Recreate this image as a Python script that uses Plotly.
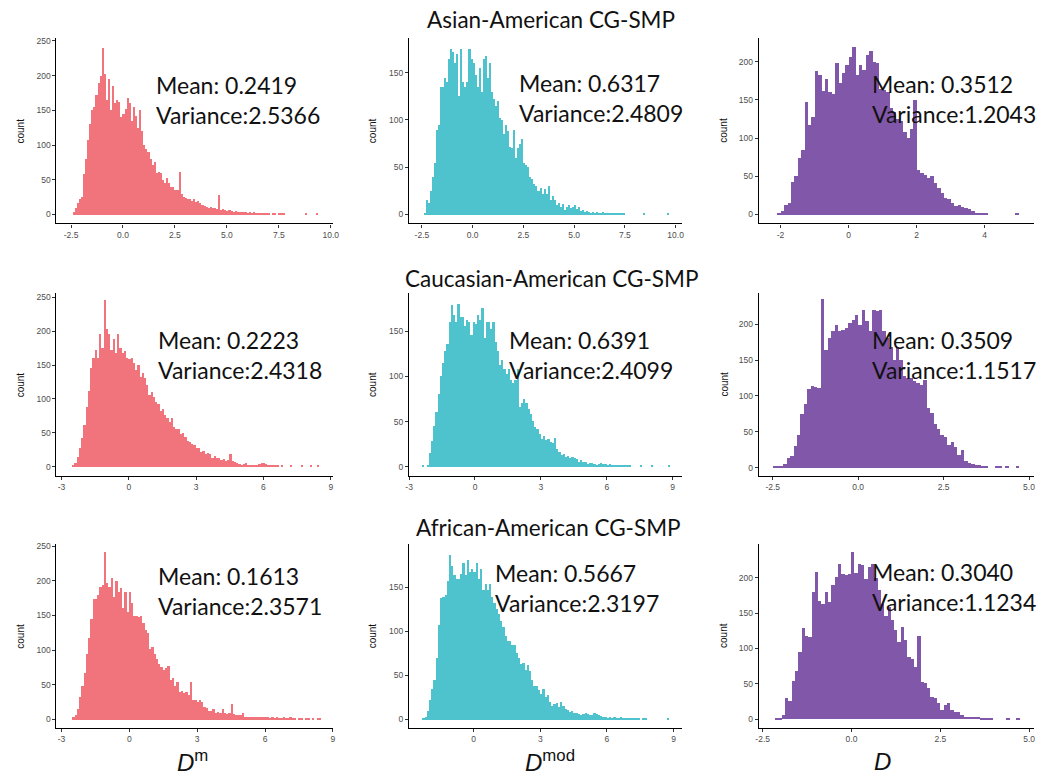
import plotly.graph_objects as go

W, H = 1053, 778

# ------------------------------------------------------------------ data
# histogram counts per bin; bins of equal width
asian_dm = [4, 10, 17, 22, 25, 58, 80, 108, 130, 150,
            155, 172, 190, 200, 240, 202, 165, 195, 150, 185,
            160, 165, 162, 140, 145, 152, 168, 160, 135, 155,
            142, 125, 150, 120, 100, 95, 90, 80, 72, 75,
            60, 62, 60, 50, 45, 52, 45, 40, 40, 36,
            35, 62, 30, 26, 24, 22, 23, 20, 22, 18,
            19, 16, 14, 12, 11, 10, 11, 9, 10, 8,
            28, 7, 8, 6, 5, 7, 5, 4, 5, 3,
            4, 3, 4, 3, 2, 3, 2, 3, 2, 1,
            2, 1, 1, 2, 1, 0, 1, 1, 0, 1,
            1, 1, 0, 0, 0, 0, 0, 0, 0, 0,
            0, 0, 1, 0, 0, 0, 0, 1]
asian_dmod = [2, 15, 12, 25, 40, 55, 90, 95, 135, 135,
              145, 140, 165, 175, 172, 160, 170, 125, 175, 140,
              135, 140, 175, 165, 160, 148, 135, 155, 130, 165,
              168, 145, 160, 130, 122, 115, 120, 102, 100, 85,
              95, 88, 72, 70, 90, 60, 70, 75, 80, 55,
              52, 50, 40, 38, 32, 30, 25, 28, 22, 27,
              22, 30, 15, 20, 15, 10, 12, 8, 11, 5,
              8, 10, 7, 8, 10, 6, 8, 4, 5, 3,
              4, 3, 2, 3, 2, 3, 2, 2, 3, 2,
              2, 1, 2, 2, 1, 2, 1, 2, 1, 0,
              0, 0, 0, 0, 0, 0, 0, 0, 1, 0,
              0, 0, 0, 0, 0, 0, 0, 0, 0, 0, 1]
asian_d = [2, 5, 13, 15, 43, 50, 74, 85, 148, 117,
           128, 188, 183, 162, 178, 161, 158, 198, 172, 185,
           196, 206, 220, 183, 196, 190, 209, 214, 200, 198,
           165, 163, 160, 140, 135, 125, 122, 108, 100, 112,
           150, 58, 54, 52, 48, 50, 41, 35, 28, 22,
           20, 15, 11, 12, 10, 8, 7, 4, 2, 2,
           2, 2, 0, 0, 0, 0, 0, 0, 0, 0, 1]

cauc_dm = [2, 6, 14, 28, 42, 62, 88, 112, 145, 160,
           172, 160, 195, 175, 245, 203, 195, 172, 188, 168,
           195, 175, 168, 170, 160, 158, 160, 152, 142, 150,
           132, 138, 130, 120, 105, 110, 103, 95, 92, 82,
           85, 76, 72, 66, 72, 58, 56, 55, 48, 50,
           43, 38, 36, 34, 32, 27, 28, 22, 23, 18,
           20, 18, 12, 15, 12, 12, 10, 11, 8, 9,
           18, 8, 7, 5, 4, 3, 4, 5, 3, 2,
           3, 2, 3, 4, 5, 6, 4, 3, 2, 1,
           1, 1, 0, 1, 0, 0, 0, 1, 0, 0,
           0, 0, 1, 0, 0, 0, 1, 0, 0, 1]
cauc_dmod = [1, 0, 1, 15, 28, 45, 60, 80, 100, 115,
             128, 135, 160, 178, 168, 160, 180, 165, 165, 155,
             162, 160, 145, 160, 158, 168, 162, 175, 142, 160,
             160, 152, 160, 138, 128, 112, 118, 108, 102, 108,
             96, 92, 96, 108, 66, 70, 75, 70, 64, 58,
             50, 44, 41, 36, 31, 34, 29, 31, 27, 26,
             32, 19, 16, 13, 14, 11, 12, 9, 11, 9,
             8, 5, 7, 5, 5, 3, 4, 4, 3, 2,
             3, 4, 3, 3, 2, 3, 2, 2, 1, 2,
             1, 1, 2, 1, 1, 0, 0, 0, 0, 1,
             0, 0, 0, 0, 1, 0, 0, 0, 0, 0,
             0, 0, 1]
cauc_d = [1, 1, 2, 5, 14, 16, 30, 46, 74, 88,
          110, 113, 112, 111, 234, 164, 180, 190, 199, 190,
          192, 194, 201, 206, 213, 199, 220, 204, 190, 220,
          218, 220, 190, 180, 168, 150, 168, 150, 128, 125,
          125, 120, 118, 115, 122, 83, 76, 60, 53, 46,
          42, 32, 35, 28, 18, 25, 9, 7, 5, 4,
          3, 2, 1, 0, 0, 1, 1, 0, 1, 0,
          0, 1]

afr_dm = [3, 6, 15, 32, 48, 68, 95, 118, 145, 175,
          175, 180, 192, 195, 242, 198, 192, 205, 178, 200,
          185, 190, 162, 185, 155, 185, 168, 150, 150, 148,
          150, 140, 130, 125, 102, 105, 95, 88, 80, 76,
          72, 75, 78, 57, 60, 48, 55, 40, 42, 38,
          40, 36, 55, 29, 28, 26, 29, 25, 18, 17,
          12, 12, 15, 10, 11, 10, 15, 9, 8, 10,
          22, 8, 7, 6, 7, 10, 4, 3, 4, 3,
          4, 3, 3, 4, 3, 3, 4, 2, 3, 2,
          3, 2, 2, 3, 2, 2, 3, 2, 1, 0,
          1, 1, 0, 1, 1, 0, 1, 0, 1, 1]
afr_dmod = [2, 3, 10, 22, 35, 45, 70, 108, 138, 140,
            142, 158, 188, 175, 165, 160, 160, 166, 178, 165,
            182, 168, 172, 168, 178, 160, 172, 148, 155, 148,
            155, 140, 133, 126, 120, 112, 106, 95, 89, 90,
            85, 85, 76, 70, 63, 64, 56, 62, 55, 45,
            38, 38, 34, 29, 35, 26, 28, 20, 16, 18,
            19, 14, 20, 15, 12, 11, 9, 10, 8, 7,
            6, 5, 6, 8, 6, 5, 5, 8, 6, 5,
            4, 3, 3, 2, 3, 2, 3, 2, 2, 3,
            2, 1, 2, 1, 1, 2, 1, 1, 0, 1,
            1, 0, 0, 0, 0, 0, 0, 0, 0, 0,
            1]
afr_d = [2, 2, 6, 30, 26, 55, 69, 95, 130, 118,
         117, 180, 208, 168, 164, 180, 166, 190, 201, 220,
         206, 204, 206, 237, 207, 220, 218, 199, 216, 220,
         200, 183, 164, 147, 159, 141, 126, 110, 131, 112,
         88, 86, 74, 118, 53, 51, 44, 32, 30, 23,
         13, 20, 23, 13, 11, 11, 6, 4, 3, 3,
         3, 3, 2, 2, 1, 1, 0, 0, 0, 0,
         1, 0, 0, 1]

group_titles = ["Asian-American CG-SMP", "Caucasian-American CG-SMP", "African-American CG-SMP"]
means = [["0.2419", "0.6317", "0.3512"],
         ["0.2223", "0.6391", "0.3509"],
         ["0.1613", "0.5667", "0.3040"]]
variances = [["2.5366", "2.4809", "1.2043"],
             ["2.4318", "2.4099", "1.1517"],
             ["2.3571", "2.3197", "1.1234"]]
x_titles = ["<i>D</i><sup>m</sup>", "<i>D</i><sup>mod</sup>", "<i>D</i>"]

counts = [asian_dm, asian_dmod, asian_d,
          cauc_dm, cauc_dmod, cauc_d,
          afr_dm, afr_dmod, afr_d]
bin_start = [-2.4, -2.4, -2.1, -2.5, -2.4, -2.5, -2.5, -2.3, -2.155]
bin_width = [0.1, 0.1, 0.1, 0.1, 0.1, 0.1, 0.1, 0.1, 0.093]

x_ticks = [[-2.5, 0, 2.5, 5, 7.5, 10], [-2.5, 0, 2.5, 5, 7.5, 10], [-2, 0, 2, 4],
           [-3, 0, 3, 6, 9], [-3, 0, 3, 6, 9], [-2.5, 0, 2.5, 5],
           [-3, 0, 3, 6, 9], [0, 3, 6, 9], [-2.5, 0, 2.5, 5]]
x_fmt = [".1f", ".1f", "d", "d", "d", ".1f", "d", "d", ".1f"]
y_ticks = [[0, 50, 100, 150, 200, 250], [0, 50, 100, 150], [0, 50, 100, 150, 200],
           [0, 50, 100, 150, 200, 250], [0, 50, 100, 150], [0, 50, 100, 150, 200],
           [0, 50, 100, 150, 200, 250], [0, 50, 100, 150], [0, 50, 100, 150, 200]]

# ------------------------------------------------------------------ layout geometry (pixels)
col_px = [(53, 332), (409, 685), (762, 1040)]
row_px = [(36, 222), (292, 475), (543, 728)]
x_ranges = [[-3.2, 10.1], [-3.13, 10.34], [-2.64, 5.46],
            [-3.22, 9.09], [-3.0, 9.45], [-2.91, 5.15],
            [-3.22, 9.0], [-2.9, 9.4], [-2.61, 5.14]]
y_ranges = [[-12.9, 254.3], [-9.5, 186.9], [-11.8, 231.4],
            [-13.2, 255.9], [-9.9, 191.8], [-11.1, 243.0],
            [-13.0, 254.0], [-10.2, 200.0], [-12.8, 248.2]]
stat_pos = [(151, 98.5), (518, 96.5), (874, 97.5),
            (153, 353.5), (508, 353.5), (874, 354),
            (153, 591), (494, 587.5), (874, 587)]
title_pos = [(552, 18), (553, 277), (550, 527)]
count_x = [17, 372, 727]
xtitle_pos = [(190, 761), (551, 761), (887, 761)]

colors = ["#F1737B", "#4EC3CE", "#8157A9"]
TEXT_FONT = "Lato, 'Open Sans', sans-serif"
AX_FONT = "Liberation Sans, Arial, sans-serif"


def px_x(p):
    return p / W


def px_y(p):
    return 1 - p / H


fig = go.Figure()
layout = {}
annotations = []
for k in range(9):
    r, c = divmod(k, 3)
    sfx = "" if k == 0 else str(k + 1)
    w = bin_width[k]
    xs = [bin_start[k] + w * (i + 0.5) for i in range(len(counts[k]))]
    fig.add_trace(go.Bar(
        x=xs, y=counts[k], width=w,
        marker=dict(color=colors[c], line=dict(width=0)),
        xaxis="x" + sfx, yaxis="y" + sfx, hoverinfo="skip", showlegend=False))
    fmt = x_fmt[k]
    ticktext = [(f"{v:.1f}" if fmt == ".1f" else f"{int(v)}") for v in x_ticks[k]]
    layout["xaxis" + sfx] = dict(
        domain=[px_x(col_px[c][0]), px_x(col_px[c][1])], anchor="y" + sfx,
        range=x_ranges[k], tickmode="array", tickvals=x_ticks[k], ticktext=ticktext,
        showgrid=False, zeroline=False, showline=True, linecolor="black", linewidth=1.3,
        ticks="outside", ticklen=3, tickwidth=1, tickcolor="#333333",
        tickfont=dict(family=AX_FONT, size=8.5, color="#4D4D4D"), fixedrange=True)
    layout["yaxis" + sfx] = dict(
        domain=[px_y(row_px[r][1]), px_y(row_px[r][0])], anchor="x" + sfx,
        range=y_ranges[k], tickmode="array", tickvals=y_ticks[k],
        showgrid=False, zeroline=False, showline=True, linecolor="black", linewidth=1.3,
        ticks="outside", ticklen=3, tickwidth=1, tickcolor="#333333",
        tickfont=dict(family=AX_FONT, size=8.5, color="#4D4D4D"), fixedrange=True)
    sx, sy = stat_pos[k]
    annotations.append(dict(
        x=px_x(sx), y=px_y(sy), xref="paper", yref="paper", xanchor="left", yanchor="middle",
        text=f"Mean: {means[r][c]}<br>Variance:{variances[r][c]}", showarrow=False, align="left",
        font=dict(family=TEXT_FONT, size=23, color="#111111")))
    annotations.append(dict(
        x=px_x(count_x[c]), y=px_y((row_px[r][0] + row_px[r][1]) / 2), xref="paper", yref="paper",
        text="count", textangle=-90, showarrow=False, xanchor="center", yanchor="middle",
        font=dict(family=AX_FONT, size=10, color="#111111")))

for r in range(3):
    tx, ty = title_pos[r]
    annotations.append(dict(
        x=px_x(tx), y=px_y(ty), xref="paper", yref="paper", xanchor="center", yanchor="middle",
        text=group_titles[r], showarrow=False, font=dict(family=TEXT_FONT, size=22.5, color="#111111")))

for c in range(3):
    tx, ty = xtitle_pos[c]
    annotations.append(dict(
        x=px_x(tx), y=px_y(ty), xref="paper", yref="paper", xanchor="center", yanchor="middle",
        text=x_titles[c], showarrow=False, font=dict(family=AX_FONT, size=24, color="#111111")))

fig.update_layout(
    width=W, height=H, margin=dict(l=0, r=0, t=0, b=0),
    paper_bgcolor="white", plot_bgcolor="white", showlegend=False,
    bargap=0, annotations=annotations, **layout)

fig.write_html(
    "out.html",
    config={"displayModeBar": False},
    post_script="document.body.style.margin='0px';document.body.style.overflow='hidden';")
